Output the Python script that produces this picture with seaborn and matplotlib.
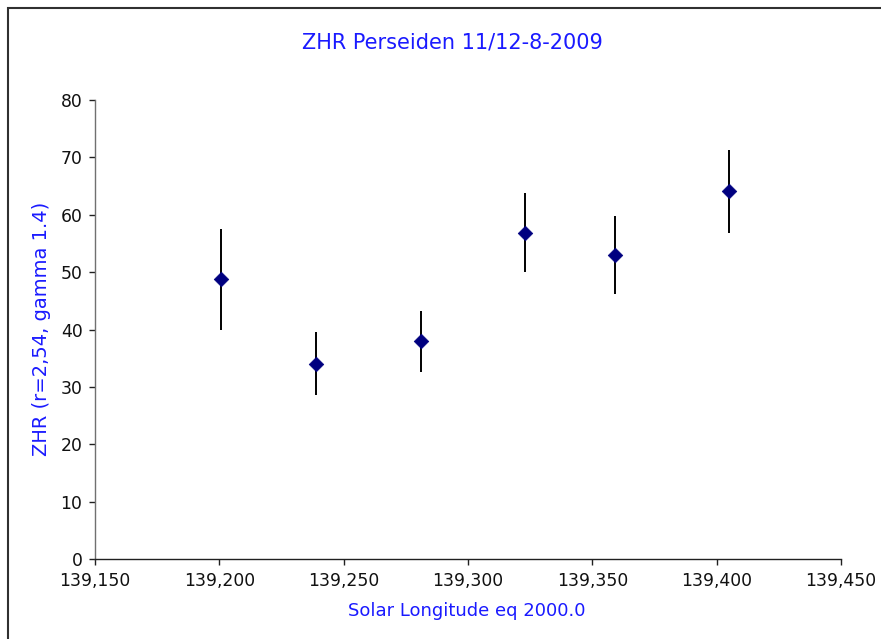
import matplotlib
matplotlib.use("Agg")
import matplotlib.pyplot as plt
from matplotlib.ticker import FuncFormatter, MultipleLocator
from matplotlib.patches import Rectangle
import seaborn as sns
import pandas as pd

# Data
solar_longitude = [139.2005, 139.239, 139.281, 139.323, 139.359, 139.405]
zhr = [48.8, 34.1, 38.0, 56.9, 53.0, 64.1]
zhr_err = [8.8, 5.5, 5.3, 6.9, 6.8, 7.2]

title = "ZHR Perseiden 11/12-8-2009"
xlabel = "Solar Longitude eq 2000.0"
ylabel = "ZHR (r=2,54, gamma 1.4)"

df = pd.DataFrame({"lon": solar_longitude, "zhr": zhr, "err": zhr_err})

sns.set_theme(style="white")
plt.rcParams['font.family'] = ['DejaVu Sans']

fig = plt.figure(figsize=(8.81, 6.39), dpi=100)
ax = fig.add_axes([95/881, (639-559.3)/639, (841-95)/881, (559.3-100)/639])

ax.errorbar(df["lon"], df["zhr"], yerr=df["err"], fmt="none",
            ecolor="black", elinewidth=1.4, capsize=0, zorder=2)
sns.scatterplot(data=df, x="lon", y="zhr", marker="D", s=55,
                color="#000080", edgecolor="#000080", linewidth=0.5,
                ax=ax, zorder=3, legend=False)

ax.set_xlim(139.150, 139.450)
ax.set_ylim(0, 80)
ax.xaxis.set_major_locator(MultipleLocator(0.05))
ax.yaxis.set_major_locator(MultipleLocator(10))
ax.xaxis.set_major_formatter(FuncFormatter(lambda v, p: f"{v:.3f}".replace(".", ",")))
ax.yaxis.set_major_formatter(FuncFormatter(lambda v, p: f"{v:.0f}"))

for s in ["top", "right"]:
    ax.spines[s].set_visible(False)
ax.spines["left"].set_color("#707070")
ax.spines["bottom"].set_color("#202020")
ax.spines["left"].set_linewidth(1.0)
ax.spines["bottom"].set_linewidth(1.0)
ax.tick_params(axis="both", which="major", direction="out", length=4, width=1,
               bottom=True, left=True, colors="#202020",
               labelsize=12.4, labelcolor="#111111")
ax.tick_params(axis="x", pad=5)
ax.tick_params(axis="y", pad=5)
ax.set_xlabel("")
ax.set_ylabel("")

fig.text(467/881, 1 - 611/639, xlabel, color="#1a1aff", fontsize=13,
         ha="center", va="center")
fig.text(42/881, 1 - 329/639, ylabel, color="#1a1aff", fontsize=14,
         ha="center", va="center", rotation=90)
fig.text(452/881, 1 - 42/639, title, color="#1a1aff", fontsize=15,
         ha="center", va="center")

# Frame around the chart area (only top/left visible in reference)
fig.patches.append(Rectangle((8/881, -0.1), 1.2, 1 - 8/639 + 0.1,
                             transform=fig.transFigure, fill=False,
                             edgecolor="#303030", linewidth=1.5))

fig.savefig("out.png", dpi=100)
